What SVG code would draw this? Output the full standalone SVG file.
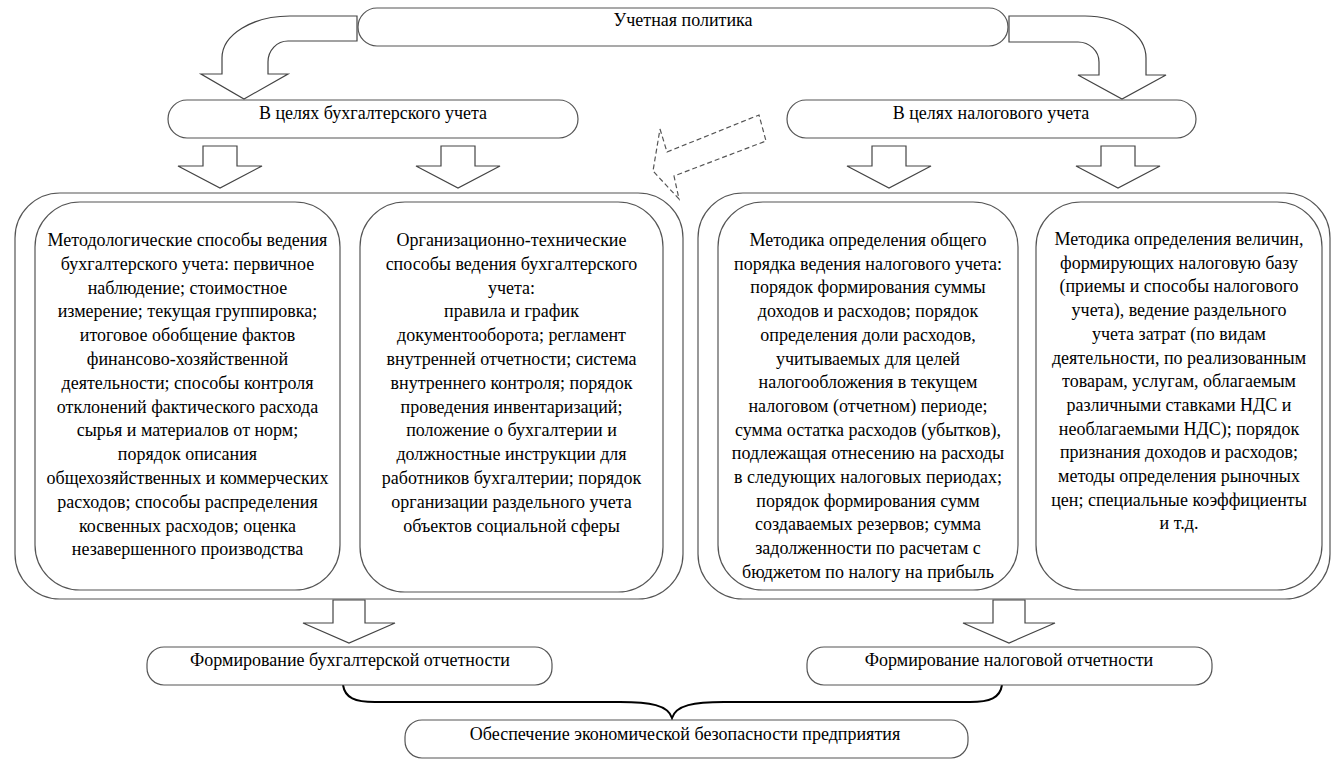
<svg xmlns="http://www.w3.org/2000/svg" xmlns:xlink="http://www.w3.org/1999/xlink" width="1339" height="763" viewBox="0 0 1339 763">
<style>
.box{fill:#fff;stroke:#555;stroke-width:1.2}
.arr{fill:#fff;stroke:#444;stroke-width:1.2}
.t{font-family:"Liberation Serif","Times New Roman",serif;font-size:18px;fill:#000;text-anchor:middle}
.dash{fill:none;stroke:#555;stroke-width:1.2;stroke-dasharray:5,3}
.brace{fill:none;stroke:#000;stroke-width:2}
</style>
<defs>
<path id="ta" d="M-17,0 H17 V20 H42 L0,42 L-42,20 H-17 Z"/>
<path id="ba" d="M-16,0 H16 V23 H46 L0,43 L-46,23 H-16 Z"/>
</defs>
<rect width="1339" height="763" fill="#fff"/>
<g id="connectors">
<path class="arr" d="M357,16 H290 A68,42 0 0 0 222,58 V74 H201 L244,99 L288,74 H268 V62 A20,21 0 0 1 288,41 H357 Z"/>
<path class="arr" d="M1009,16 H1085 A61,42 0 0 1 1146,58 V75 H1166 L1122,99 L1078,75 H1099 V62 A21,20 0 0 0 1078,42 H1009 Z"/>
<path class="dash" d="M660,129 L667,152 L759,115 L766,141 L674,176 L679,199 L653,171 Z"/>
<use xlink:href="#ta" class="arr" x="220" y="146"/>
<use xlink:href="#ta" class="arr" x="458" y="146"/>
<use xlink:href="#ta" class="arr" x="889" y="146"/>
<use xlink:href="#ta" class="arr" x="1118" y="146"/>
<use xlink:href="#ba" class="arr" x="349" y="600"/>
<use xlink:href="#ba" class="arr" x="1009" y="600"/>
<path class="brace" d="M343,685 C345,698 355,702 375,702 L620,702 C650,702 668,705 672,718 C676,705 694,702 724,702 L970,702 C990,702 1000,698 1002,685"/>
</g>
<g id="policy">
<rect class="box" x="358" y="8" width="650" height="38" rx="19"/>
<text class="t" x="683" y="26">Учетная политика</text>
</g>
<g id="acc-head">
<rect class="box" x="168" y="100" width="410" height="38" rx="19"/>
<text class="t" x="373" y="119">В целях бухгалтерского учета</text>
</g>
<g id="tax-head">
<rect class="box" x="787" y="100" width="409" height="38" rx="19"/>
<text class="t" x="991" y="119">В целях налогового учета</text>
</g>
<g id="acc-container">
<rect class="box" x="15" y="193" width="668" height="406" rx="45"/>
</g>
<g id="tax-container">
<rect class="box" x="698" y="193" width="632" height="406" rx="45"/>
</g>
<g id="acc-method">
<rect class="box" x="35" y="202" width="305" height="388" rx="45"/>
<text class="t" x="187.5" y="246"><tspan x="187.5">Методологические способы ведения</tspan><tspan x="187.5" dy="23.8">бухгалтерского учета: первичное</tspan><tspan x="187.5" dy="23.8">наблюдение; стоимостное</tspan><tspan x="187.5" dy="23.8">измерение; текущая группировка;</tspan><tspan x="187.5" dy="23.8">итоговое обобщение фактов</tspan><tspan x="187.5" dy="23.8">финансово-хозяйственной</tspan><tspan x="187.5" dy="23.8">деятельности; способы контроля</tspan><tspan x="187.5" dy="23.8">отклонений фактического расхода</tspan><tspan x="187.5" dy="23.8">сырья и материалов от норм;</tspan><tspan x="187.5" dy="23.8">порядок описания</tspan><tspan x="187.5" dy="23.8">общехозяйственных и коммерческих</tspan><tspan x="187.5" dy="23.8">расходов; способы распределения</tspan><tspan x="187.5" dy="23.8">косвенных расходов; оценка</tspan><tspan x="187.5" dy="23.8">незавершенного производства</tspan></text>
</g>
<g id="acc-org">
<rect class="box" x="360" y="202" width="303" height="390" rx="45"/>
<text class="t" x="511.5" y="246"><tspan x="511.5">Организационно-технические</tspan><tspan x="511.5" dy="23.8">способы ведения бухгалтерского</tspan><tspan x="511.5" dy="23.8">учета:</tspan><tspan x="511.5" dy="23.8">правила и график</tspan><tspan x="511.5" dy="23.8">документооборота; регламент</tspan><tspan x="511.5" dy="23.8">внутренней отчетности; система</tspan><tspan x="511.5" dy="23.8">внутреннего контроля; порядок</tspan><tspan x="511.5" dy="23.8">проведения инвентаризаций;</tspan><tspan x="511.5" dy="23.8">положение о бухгалтерии и</tspan><tspan x="511.5" dy="23.8">должностные инструкции для</tspan><tspan x="511.5" dy="23.8">работников бухгалтерии; порядок</tspan><tspan x="511.5" dy="23.8">организации раздельного учета</tspan><tspan x="511.5" dy="23.8">объектов социальной сферы</tspan></text>
</g>
<g id="tax-general">
<rect class="box" x="718" y="202" width="300" height="388" rx="45"/>
<text class="t" x="868" y="246"><tspan x="868">Методика определения общего</tspan><tspan x="868" dy="23.7">порядка ведения налогового учета:</tspan><tspan x="868" dy="23.7">порядок формирования суммы</tspan><tspan x="868" dy="23.7">доходов и расходов; порядок</tspan><tspan x="868" dy="23.7">определения доли расходов,</tspan><tspan x="868" dy="23.7">учитываемых для целей</tspan><tspan x="868" dy="23.7">налогообложения в текущем</tspan><tspan x="868" dy="23.7">налоговом (отчетном) периоде;</tspan><tspan x="868" dy="23.7">сумма остатка расходов (убытков),</tspan><tspan x="868" dy="23.7">подлежащая отнесению на расходы</tspan><tspan x="868" dy="23.7">в следующих налоговых периодах;</tspan><tspan x="868" dy="23.7">порядок формирования сумм</tspan><tspan x="868" dy="23.7">создаваемых резервов; сумма</tspan><tspan x="868" dy="23.7">задолженности по расчетам с</tspan><tspan x="868" dy="23.7">бюджетом по налогу на прибыль</tspan></text>
</g>
<g id="tax-base">
<rect class="box" x="1036" y="202" width="286" height="388" rx="45"/>
<text class="t" x="1179" y="245"><tspan x="1179">Методика определения величин,</tspan><tspan x="1179" dy="23.7">формирующих налоговую базу</tspan><tspan x="1179" dy="23.7">(приемы и способы налогового</tspan><tspan x="1179" dy="23.7">учета), ведение раздельного</tspan><tspan x="1179" dy="23.7">учета затрат (по видам</tspan><tspan x="1179" dy="23.7">деятельности, по реализованным</tspan><tspan x="1179" dy="23.7">товарам, услугам, облагаемым</tspan><tspan x="1179" dy="23.7">различными ставками НДС и</tspan><tspan x="1179" dy="23.7">необлагаемыми НДС); порядок</tspan><tspan x="1179" dy="23.7">признания доходов и расходов;</tspan><tspan x="1179" dy="23.7">методы определения рыночных</tspan><tspan x="1179" dy="23.7">цен; специальные коэффициенты</tspan><tspan x="1179" dy="23.7">и т.д.</tspan></text>
</g>
<g id="acc-report">
<rect class="box" x="147" y="647" width="405" height="38" rx="17"/>
<text class="t" x="350" y="666">Формирование бухгалтерской отчетности</text>
</g>
<g id="tax-report">
<rect class="box" x="807" y="647" width="405" height="38" rx="17"/>
<text class="t" x="1009" y="666">Формирование налоговой отчетности</text>
</g>
<g id="security">
<rect class="box" x="405" y="720" width="563" height="38" rx="17"/>
<text class="t" x="685" y="740">Обеспечение экономической безопасности предприятия</text>
</g>
</svg>
